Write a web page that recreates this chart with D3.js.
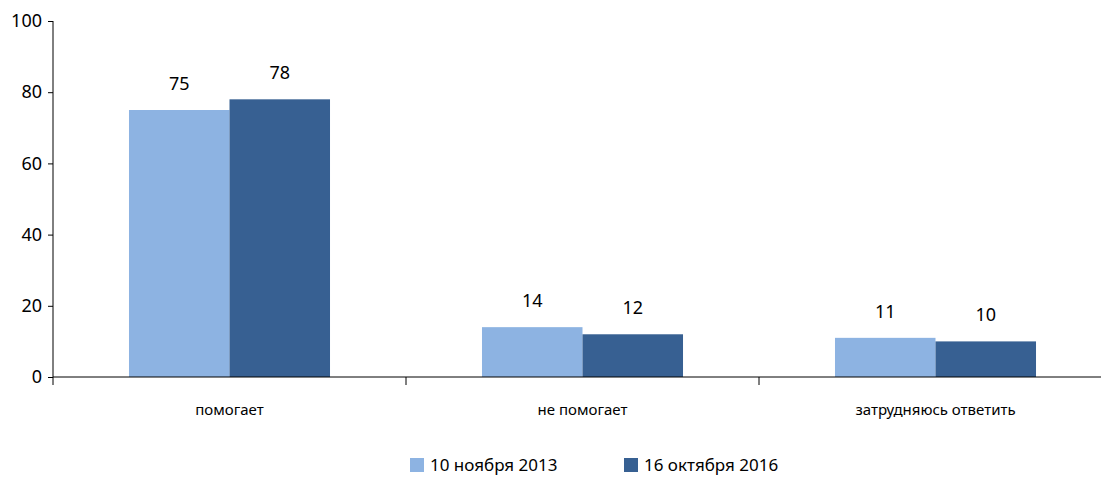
<!DOCTYPE html>
<html>
<head>
<meta charset="utf-8">
<script src="https://cdn.jsdelivr.net/npm/d3@7"></script>
<style>
  body { margin: 0; background: #fff; }
  svg text { font-family: "Noto Sans", sans-serif; fill: #000; }
</style>
</head>
<body>
<div id="chart"></div>
<script>
var categories = ['помогает', 'не помогает', 'затрудняюсь ответить'];
var seriesNames = ['10 ноября 2013', '16 октября 2016'];
var values2013 = [75, 14, 11];
var values2016 = [78, 12, 10];
var yTicks = [0, 20, 40, 60, 80, 100];

var colors = ['#8DB3E2', '#376092'];

var width = 1101,
    height = 477,
    plotLeft = 53,
    plotTop = 21,
    plotRight = 1112,
    baseY = 377;

var svg = d3.select('#chart').append('svg')
    .attr('width', width)
    .attr('height', height);

var yScale = d3.scaleLinear()
    .domain([0, 100])
    .range([baseY, plotTop]);

var xScale = d3.scaleBand()
    .domain(categories)
    .range([plotLeft, plotRight]);

var inner = d3.scaleBand()
    .domain(seriesNames)
    .range([0, xScale.bandwidth()])
    .paddingInner(0)
    .paddingOuter(0.756);

var rows = categories.map(function(c, i) {
  return { cat: c, vals: [values2013[i], values2016[i]] };
});

// bars
var groups = svg.selectAll('g.grp').data(rows)
  .enter().append('g')
    .attr('class', 'grp')
    .attr('transform', function(d) { return 'translate(' + xScale(d.cat) + ',0)'; });

groups.selectAll('rect').data(function(d) { return d.vals; })
  .enter().append('rect')
    .attr('x', function(d, i) { return inner(seriesNames[i]); })
    .attr('width', inner.bandwidth())
    .attr('y', function(d) { return yScale(d); })
    .attr('height', function(d) { return baseY - yScale(d); })
    .attr('fill', function(d, i) { return colors[i]; });

groups.selectAll('text.val').data(function(d) { return d.vals; })
  .enter().append('text')
    .attr('class', 'val')
    .attr('x', function(d, i) { return inner(seriesNames[i]) + inner.bandwidth() / 2; })
    .attr('y', function(d) { return yScale(d) - 20; })
    .attr('text-anchor', 'middle')
    .style('font-size', '18px')
    .text(function(d) { return d; });

// y axis
var yAxis = d3.axisLeft(yScale)
    .tickValues(yTicks)
    .tickSize(5)
    .tickPadding(6);

svg.append('g')
    .attr('transform', 'translate(' + plotLeft + ',0)')
    .call(yAxis)
    .call(function(g) {
      g.select('.domain').attr('d', 'M0,' + plotTop + 'V' + (baseY + 8));
      g.selectAll('text').style('font-size', '18px').style('font-family', '"Noto Sans", sans-serif');
    });

// x axis
svg.append('line')
    .attr('x1', plotLeft).attr('x2', width)
    .attr('y1', baseY).attr('y2', baseY)
    .attr('stroke', '#000');

svg.selectAll('line.xtick').data(categories.slice(1))
  .enter().append('line')
    .attr('class', 'xtick')
    .attr('x1', function(d) { return xScale(d); })
    .attr('x2', function(d) { return xScale(d); })
    .attr('y1', baseY).attr('y2', baseY + 8)
    .attr('stroke', '#000');

svg.selectAll('text.cat').data(categories)
  .enter().append('text')
    .attr('class', 'cat')
    .attr('x', function(d) { return xScale(d) + xScale.bandwidth() / 2; })
    .attr('y', 415)
    .attr('text-anchor', 'middle')
    .style('font-size', '15px')
    .text(function(d) { return d; });

// legend
var legendX = [410, 624];
var legend = svg.selectAll('g.leg').data(seriesNames)
  .enter().append('g')
    .attr('class', 'leg')
    .attr('transform', function(d, i) { return 'translate(' + legendX[i] + ',458)'; });

legend.append('rect')
    .attr('width', 14).attr('height', 14)
    .attr('fill', function(d, i) { return colors[i]; });

legend.append('text')
    .attr('x', 20).attr('y', 13)
    .style('font-size', '17px')
    .text(function(d) { return d; });
</script>
</body>
</html>
